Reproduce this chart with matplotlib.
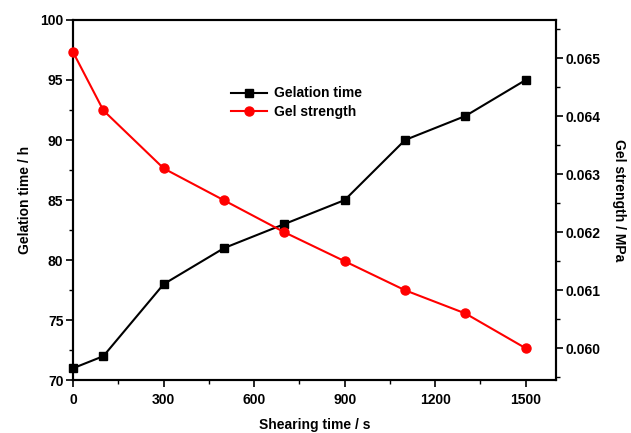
import numpy as np
import matplotlib
matplotlib.use("Agg")
import matplotlib.pyplot as plt
from matplotlib.ticker import MultipleLocator, FormatStrFormatter

# -----------------------------
# Data
# -----------------------------
shear_time = [0, 100, 300, 500, 700, 900, 1100, 1300, 1500]
gelation_time = [71, 72, 78, 81, 83, 85, 90, 92, 95]
gel_strength = [0.0651, 0.0641, 0.0631, 0.06255, 0.0620, 0.0615, 0.0610, 0.0606, 0.0600]

plt.rcParams["font.family"] = ["Liberation Sans", "DejaVu Sans"]
plt.rcParams["font.weight"] = "bold"

fig = plt.figure(figsize=(6.31, 4.33), dpi=100)
ax = fig.add_axes([0.116, 0.122, 0.765, 0.832])
ax2 = ax.twinx()

l1, = ax.plot(shear_time, gelation_time, color="black", lw=1.5,
              marker="s", ms=6, clip_on=False, zorder=3, label="Gelation time")
l2, = ax2.plot(shear_time, gel_strength, color="red", lw=1.5,
               marker="o", ms=6.5, clip_on=False, zorder=3, label="Gel strength")

ax.set_xlim(0, 1600)
ax.set_ylim(70, 100)
ax2.set_ylim(0.05945, 0.06566)

ax.xaxis.set_major_locator(MultipleLocator(300))
ax.xaxis.set_minor_locator(MultipleLocator(150))
ax.yaxis.set_major_locator(MultipleLocator(5))
ax.yaxis.set_minor_locator(MultipleLocator(2.5))
ax2.yaxis.set_major_locator(MultipleLocator(0.001))
ax2.yaxis.set_minor_locator(MultipleLocator(0.0005))
ax2.yaxis.set_major_formatter(FormatStrFormatter("%.3f"))

for a in (ax, ax2):
    a.tick_params(which="major", length=5, width=1.2, labelsize=10,
                  direction="out", pad=2)
    a.tick_params(which="minor", length=3, width=1.0, direction="out")
    for s in a.spines.values():
        s.set_linewidth(1.5)
ax.tick_params(axis="x", pad=4)

ax.set_xlabel("Shearing time / s", fontsize=10, fontweight="bold", labelpad=8)
ax.set_ylabel("Gelation time / h", fontsize=10, fontweight="bold", labelpad=6)
ax2.set_ylabel("Gel strength / MPa", fontsize=10, fontweight="bold",
               rotation=270, labelpad=18)

ax.legend(handles=[l1, l2], loc="upper left", bbox_to_anchor=(0.3, 0.85),
          frameon=False, fontsize=10, handlelength=2.6, handletextpad=0.5,
          labelspacing=0.35)

fig.savefig("out.png", dpi=100)
